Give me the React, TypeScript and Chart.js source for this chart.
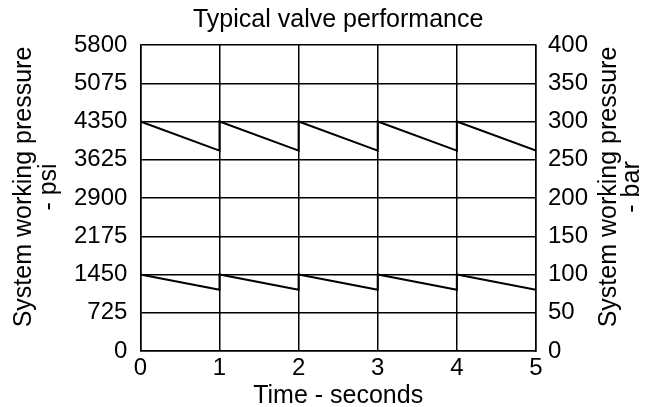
import React, { useEffect, useRef } from "react";
import { Chart, registerables } from "chart.js";

Chart.register(...registerables);

const timeSeconds = [0, 1, 1, 2, 2, 3, 3, 4, 4, 5];
const highPressureBar = [300, 262, 300, 262, 300, 262, 300, 262, 300, 262];
const lowPressureBar = [100, 80, 100, 80, 100, 80, 100, 80, 100, 80];
const psiTicks = [0, 725, 1450, 2175, 2900, 3625, 4350, 5075, 5800];
const barTicks = [0, 50, 100, 150, 200, 250, 300, 350, 400];
const chartTitle = "Typical valve performance";
const leftTitle = ["System working pressure", "- psi"];
const rightTitle = ["System working pressure", "- bar"];

const FONT = "'Liberation Sans', Arial, sans-serif";
const TICK_SIZE = 24;
const AXIS_TITLE_SIZE = 25;

const titlesPlugin = {
  id: "titles",
  afterDraw(chart: any) {
    const { ctx, chartArea } = chart;
    const cy = 187;
    ctx.save();
    ctx.fillStyle = "#000";
    ctx.font = `normal ${AXIS_TITLE_SIZE}px ${FONT}`;
    ctx.textAlign = "center";
    ctx.textBaseline = "middle";
    ctx.fillText(chartTitle, (chartArea.left + chartArea.right) / 2, 20);
    const draw = (lines: string[], xs: number[]) => {
      lines.forEach((t, i) => {
        ctx.save();
        ctx.translate(xs[i], cy);
        ctx.rotate(-Math.PI / 2);
        ctx.fillText(t, 0, 0);
        ctx.restore();
      });
    };
    draw(leftTitle, [24, 49]);
    draw(rightTitle, [609, 632]);
    ctx.restore();
  },
};

export default function App() {
  const ref = useRef<HTMLCanvasElement>(null);
  useEffect(() => {
    document.body.style.margin = "0";
    const toPts = (ys: number[]) => timeSeconds.map((x, i) => ({ x, y: ys[i] }));
    const tickFont = { family: FONT, size: TICK_SIZE, weight: "normal", lineHeight: 1 };
    const chart = new Chart(ref.current!, {
      type: "line",
      data: {
        datasets: [
          {
            data: toPts(highPressureBar),
            yAxisID: "y2",
            borderColor: "#000",
            borderWidth: 2,
            pointRadius: 0,
            tension: 0,
          },
          {
            data: toPts(lowPressureBar),
            yAxisID: "y2",
            borderColor: "#000",
            borderWidth: 2,
            pointRadius: 0,
            tension: 0,
          },
        ],
      },
      options: {
        animation: false,
        responsive: false,
        maintainAspectRatio: false,
        layout: { padding: { left: 61, right: 47, top: 45, bottom: 0 } },
        plugins: {
          legend: { display: false },
          tooltip: { enabled: false },
          title: { display: false },
        },
        scales: {
          x: {
            type: "linear",
            min: 0,
            max: 5,
            ticks: {
              stepSize: 1,
              color: "#000",
              font: tickFont,
              padding: 5,
            },
            grid: { color: "#000", lineWidth: 1.5, drawTicks: false },
            border: { color: "#000", width: 1.5 },
            title: {
              display: true,
              text: "Time - seconds",
              color: "#000",
              font: { family: FONT, size: AXIS_TITLE_SIZE, weight: "normal", lineHeight: 0.88 },
              padding: { top: 0, bottom: 0 },
            },
          },
          y: {
            position: "left",
            min: 0,
            max: 5800,
            afterBuildTicks: (axis: any) => {
              axis.ticks = psiTicks.map((v) => ({ value: v }));
            },
            ticks: {
              color: "#000",
              font: tickFont,
              padding: 13,
              callback: (v: any) => String(v),
            },
            grid: { color: "#000", lineWidth: 1.5, drawTicks: false },
            border: { color: "#000", width: 1.5 },
          },
          y2: {
            position: "right",
            min: 0,
            max: 400,
            afterBuildTicks: (axis: any) => {
              axis.ticks = barTicks.map((v) => ({ value: v }));
            },
            ticks: {
              color: "#000",
              font: tickFont,
              padding: 12,
              callback: (v: any) => String(v),
            },
            grid: { display: false, drawTicks: false },
            border: { color: "#000", width: 1.5 },
          },
        },
      },
      plugins: [titlesPlugin],
    } as any);
    return () => chart.destroy();
  }, []);
  return (
    <div style={{ width: 647, height: 407 }}>
      <canvas ref={ref} width={647} height={407} style={{ width: 647, height: 407 }} />
    </div>
  );
}
